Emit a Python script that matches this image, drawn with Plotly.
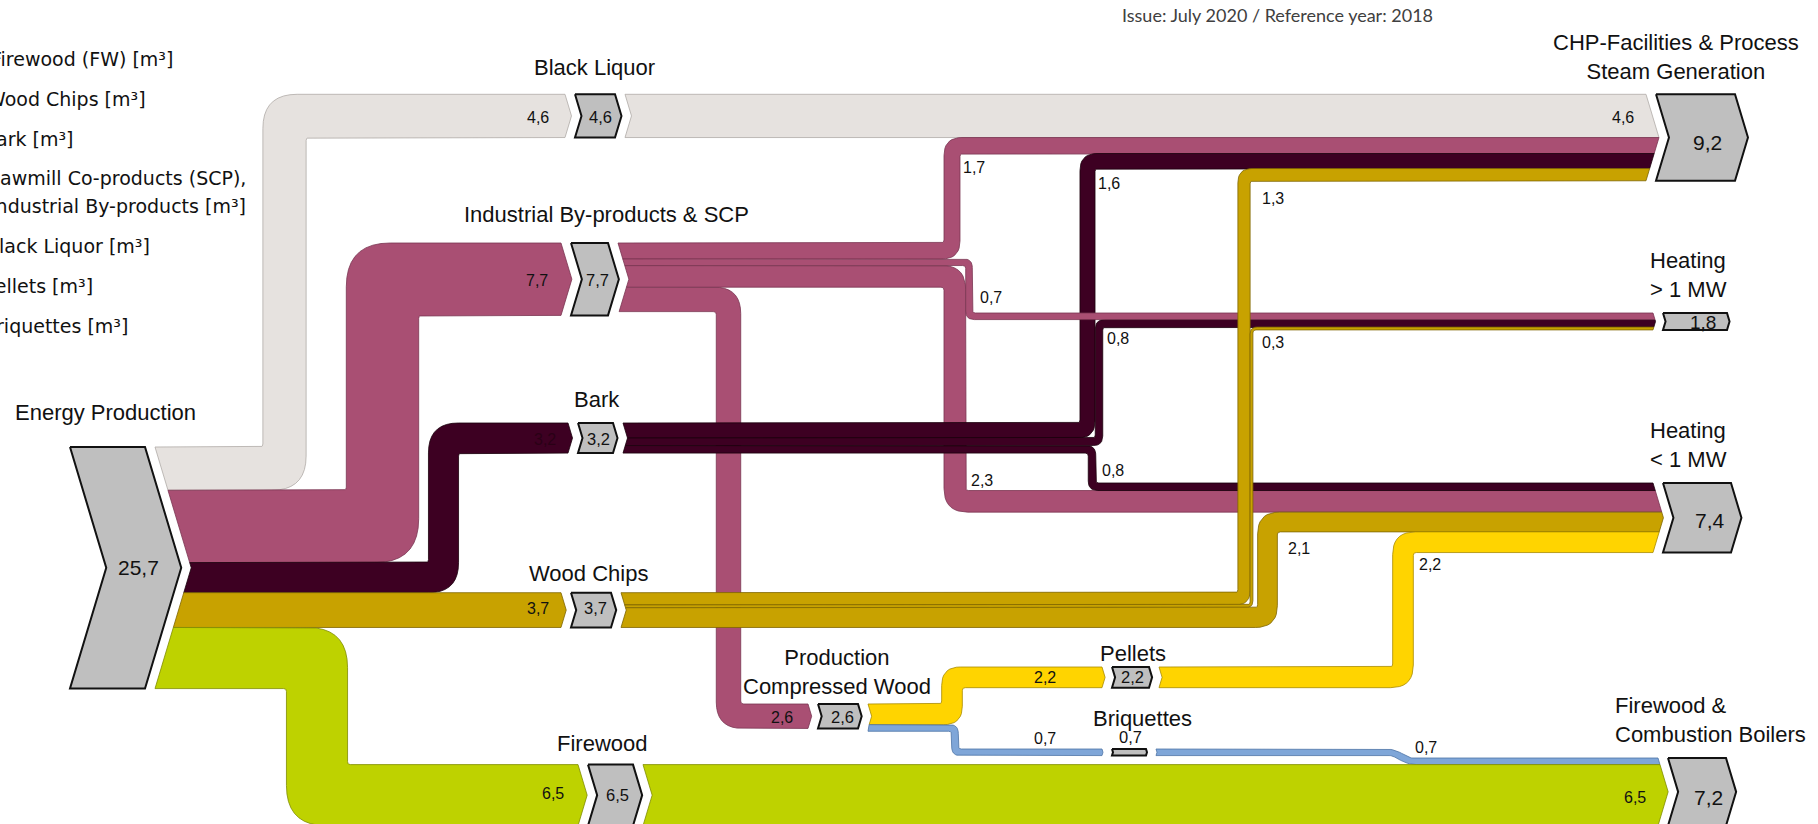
import numpy as np
import plotly.graph_objects as go

# ---------------- data ----------------
node_names = ["Energy Production", "Black Liquor", "Industrial By-products & SCP", "Bark", "Wood Chips",
              "Firewood", "Production<br>Compressed Wood", "Pellets", "Briquettes",
              "CHP-Facilities & Process<br>Steam Generation", "Heating<br>&gt; 1 MW", "Heating<br>&lt; 1 MW",
              "Firewood &amp;<br>Combustion Boilers"]
node_values = [25.7, 4.6, 7.7, 3.2, 3.7, 6.5, 2.6, 2.2, 0.7, 9.2, 1.8, 7.4, 7.2]

link_source = [0, 0, 0, 0, 0, 1, 2, 2, 2, 2, 3, 3, 3, 4, 4, 4, 6, 6, 7, 8, 5]
link_target = [1, 2, 3, 4, 5, 9, 9, 10, 11, 6, 9, 10, 11, 9, 10, 11, 7, 8, 11, 12, 12]
link_values = [4.6, 7.7, 3.2, 3.7, 6.5, 4.6, 1.7, 0.7, 2.3, 2.6, 1.6, 0.8, 0.8, 1.3, 0.3, 2.1, 2.2, 0.7, 2.2, 0.7, 6.5]

category_names = ["Firewood (FW) [m³]", "Wood Chips [m³]", "Bark [m³]",
                  "Sawmill Co-products (SCP),", "Industrial By-products [m³]",
                  "Black Liquor [m³]", "Pellets [m³]", "Briquettes [m³]"]
# category of every link: 0 FW, 1 WC, 2 Bark, 3 SCP, 4 BL, 5 Pellets, 6 Briquettes
link_category = [4, 3, 2, 1, 0, 4, 3, 3, 3, 3, 2, 2, 2, 1, 1, 1, 5, 6, 5, 6, 0]

issue_text = "Issue: July 2020 / Reference year: 2018"

# ---------------- layout / style ----------------
K = 9.4          # px per unit
GAP = 10
DEP = 0.15
cat_fill = ["#BED200", "#C8A200", "#3D0022", "#A94F73", "#E6E2DF", "#FFD400", "#7FA6D8"]
cat_line = ["#7f8c00", "#7d6500", "#1a000d", "#7a3552", "#B0ABA7", "#a88a00", "#4d74a6"]

node_x = [70, 575, 571, 578, 571, 588, 818, 1112, 1112, 1656, 1663, 1663, 1668]
node_top = [447, 94.3, 243, 423, 592.7, 764.6, 704, 667, 749, 94.3, 313, 483, 758]
node_w = [75, 40, 37, 35, 40, 45, 40, 37, 34, 79, 64, 68, 58]

out_order = {0: [0, 1, 2, 3, 4], 1: [5], 2: [6, 7, 8, 9], 3: [10, 11, 12], 4: [13, 14, 15],
             5: [20], 6: [16, 17], 7: [18], 8: [19]}
in_order = {1: [0], 2: [1], 3: [2], 4: [3], 5: [4], 6: [9], 7: [16], 8: [17],
            9: [5, 6, 10, 13], 10: [7, 11, 14], 11: [12, 8, 15, 18], 12: [19, 20]}

route_x = [284.5, 382.5, 443.5, None, 317, None, 952, 969, 954.8, 728.5, 1087.5, 1099, 1092,
           1244, 1251.5, 1267.5, 952, 955, 1403, 1401, None]
slant = {19: 8}
draw_order = [0, 1, 2, 3, 4, 5, 9, 8, 6, 10, 11, 12, 7, 13, 14, 15, 16, 17, 18, 19, 20]

link_label_pos = [(538, 117), (537, 280), (545, 439), (538, 608), (553, 793), (1623, 117),
                  (974, 167), (991, 297), (982, 480), (782, 717), (1109, 183), (1118, 338),
                  (1113, 470), (1273, 198), (1273, 342), (1299, 548), (1045, 677), (1045, 738),
                  (1430, 564), (1426, 747), (1635, 797)]
node_value_pos = [(138, 567), (600, 117), (597, 280), (598, 439), (595, 608), (617, 795),
                  (842, 717), (1132, 677), (1130, 737), (1707, 142), (1703, 322), (1710, 520), (1708, 797)]
node_value_size = [21, 16.5, 16.5, 16.5, 16.5, 16.5, 16.5, 16.5, 16.5, 21, 19, 21, 21]
node_name_pos = [(105, 412, "center"), (594, 67, "center"), (606, 214, "center"), (597, 399, "center"),
                 (588, 573, "center"), (602, 743, "center"), (837, 672, "center"), (1133, 653, "center"),
                 (1142, 718, "center"), (1676, 57, "center"), (1648, 275, "left"), (1648, 445, "left"),
                 (1613, 720, "left")]
legend_pos = [(175, 59), (148, 99), (75, 139), (248, 178), (248, 206), (152, 246), (95, 286), (130, 326)]

FONT = "Liberation Sans, Arial, sans-serif"


def fmt(v):
    return f"{v:.1f}".replace(".", ",")


# lane tops
src_top, tgt_top = {}, {}
for n, links in out_order.items():
    y = node_top[n]
    for li in links:
        src_top[li] = y
        y += link_values[li] * K
for n, links in in_order.items():
    y = node_top[n]
    for li in links:
        tgt_top[li] = y
        y += link_values[li] * K


def node_geom(n):
    h = node_values[n] * K
    return h, node_top[n] + h / 2, DEP * h


def chev_in(n, y):
    h, mid, dep = node_geom(n)
    frac = 1 - min(abs(y - mid) / (h / 2), 1)
    return node_x[n] - GAP + dep * frac


def chev_out(n, y):
    h, mid, dep = node_geom(n)
    frac = 1 - min(abs(y - mid) / (h / 2), 1)
    return node_x[n] + node_w[n] + GAP + dep * frac


def offset(pts, s):
    pts = np.asarray(pts, float)
    res = []
    m = len(pts)
    for i in range(m):
        if i == 0 or i == m - 1:
            d = pts[1] - pts[0] if i == 0 else pts[-1] - pts[-2]
            d = d / np.linalg.norm(d)
            nr = np.array([-d[1], d[0]])
            res.append(pts[i] + s * nr)
        else:
            d1 = pts[i] - pts[i - 1]; d1 /= np.linalg.norm(d1)
            d2 = pts[i + 1] - pts[i]; d2 /= np.linalg.norm(d2)
            n1 = np.array([-d1[1], d1[0]]); n2 = np.array([-d2[1], d2[0]])
            res.append(pts[i] + s * (n1 + n2) / (1 + n1 @ n2))
    return res


def turn_cross(pts, i):
    pts = np.asarray(pts, float)
    d1 = pts[i] - pts[i - 1]; d2 = pts[i + 1] - pts[i]
    return d1[0] * d2[1] - d1[1] * d2[0]


def round_poly(pts, radii):
    res = [np.array(pts[0])]
    for i in range(1, len(pts) - 1):
        A, V, B = np.array(pts[i - 1]), np.array(pts[i]), np.array(pts[i + 1])
        la = np.linalg.norm(A - V); lb = np.linalg.norm(B - V)
        r = min(radii[i - 1], la / 2, lb / 2)
        if r < 0.5:
            res.append(V); continue
        P1 = V + (A - V) / la * r; P2 = V + (B - V) / lb * r
        for t in np.linspace(0, 1, 10):
            res.append((1 - t) ** 2 * P1 + 2 * (1 - t) * t * V + t ** 2 * P2)
    res.append(np.array(pts[-1]))
    return res


def band(li):
    s, t = link_source[li], link_target[li]
    w = link_values[li] * K
    ys = src_top[li] + w / 2
    yt = tgt_top[li] + w / 2
    xs = node_x[s] + node_w[s] + GAP
    xe = node_x[t] - GAP
    xv = route_x[li]
    if xv is None or abs(ys - yt) < 0.5:
        pts = [(xs, ys), (xe, ys)]
    elif li in slant:
        sl = slant[li]
        pts = [(xs, ys), (xv - sl, ys), (xv + sl, yt), (xe, yt)]
    else:
        pts = [(xs, ys), (xv, ys), (xv, yt), (xe, yt)]
    r_out = max(min(w + 2, 20 + 0.33 * w), 7)
    r_in = 3
    edges = []
    for sgn in (-1, 1):
        off = offset(pts, sgn * w / 2)
        radii = []
        for i in range(1, len(pts) - 1):
            c = turn_cross(pts, i)
            radii.append(r_in if sgn * c > 0 else r_out)
        edges.append(round_poly(off, radii))
    top, bot = edges
    top[0] = np.array([chev_out(s, top[0][1]), top[0][1]])
    bot[0] = np.array([chev_out(s, bot[0][1]), bot[0][1]])
    top[-1] = np.array([chev_in(t, top[-1][1]), top[-1][1]])
    bot[-1] = np.array([chev_in(t, bot[-1][1]), bot[-1][1]])
    poly = list(top)
    _, tmid, _ = node_geom(t)
    if top[-1][1] < tmid < bot[-1][1]:
        poly.append(np.array([chev_in(t, tmid), tmid]))
    poly += list(reversed(bot))
    _, smid, _ = node_geom(s)
    if top[0][1] < smid < bot[0][1]:
        poly.append(np.array([chev_out(s, smid), smid]))
    poly.append(top[0])
    arr = np.array(poly)
    return arr[:, 0], arr[:, 1]


fig = go.Figure()

for li in draw_order:
    x, y = band(li)
    c = link_category[li]
    fig.add_trace(go.Scatter(x=x, y=y, mode="lines", fill="toself", fillcolor=cat_fill[c],
                             line=dict(color=cat_line[c], width=0.8), hoverinfo="skip", showlegend=False))

for n in range(len(node_values)):
    h, mid, dep = node_geom(n)
    x0, x1, top, bot = node_x[n], node_x[n] + node_w[n], node_top[n], node_top[n] + h
    xs = [x0, x1, x1 + dep, x1, x0, x0 + dep, x0]
    ys = [top, top, mid, bot, bot, mid, top]
    fig.add_trace(go.Scatter(x=xs, y=ys, mode="lines", fill="toself", fillcolor="#BFBFBF",
                             line=dict(color="#111111", width=2), hoverinfo="skip", showlegend=False))

ann = []
# node names
for n, (x, y, anc) in enumerate(node_name_pos):
    ann.append(dict(x=x, y=y, text=node_names[n], xanchor=anc, yanchor="middle", align=anc,
                    font=dict(family=FONT, size=22, color="#111111")))
# node values
for n, (x, y) in enumerate(node_value_pos):
    ann.append(dict(x=x, y=y, text=fmt(node_values[n]), xanchor="center", yanchor="middle",
                    font=dict(family=FONT, size=node_value_size[n], color="#111111")))
# link values
for li, (x, y) in enumerate(link_label_pos):
    col = "#2a0016" if li == 2 else "#111111"
    ann.append(dict(x=x, y=y, text=fmt(link_values[li]), xanchor="center", yanchor="middle",
                    font=dict(family=FONT, size=16, color=col)))
# legend texts (cut at the left edge as in the original)
for i, (x, y) in enumerate(legend_pos):
    ann.append(dict(x=x, y=y, text=category_names[i], xanchor="right", yanchor="middle",
                    font=dict(family="DejaVu Sans, sans-serif", size=19, color="#111111")))
ann.append(dict(x=1435, y=15, text=issue_text, xanchor="right", yanchor="middle",
                font=dict(family="Lato, Open Sans, sans-serif", size=18, color="#404040")))

for a in ann:
    a.update(xref="x", yref="y", showarrow=False)

fig.update_layout(
    width=1818, height=824, margin=dict(l=0, r=0, t=0, b=0),
    paper_bgcolor="white", plot_bgcolor="white",
    xaxis=dict(range=[0, 1818], visible=False, fixedrange=True),
    yaxis=dict(range=[824, 0], visible=False, fixedrange=True),
    showlegend=False, annotations=ann,
)

fig.write_html("out.html", config={"displayModeBar": False, "staticPlot": True},
               post_script="document.body.style.margin='0';document.body.style.overflow='hidden';")
